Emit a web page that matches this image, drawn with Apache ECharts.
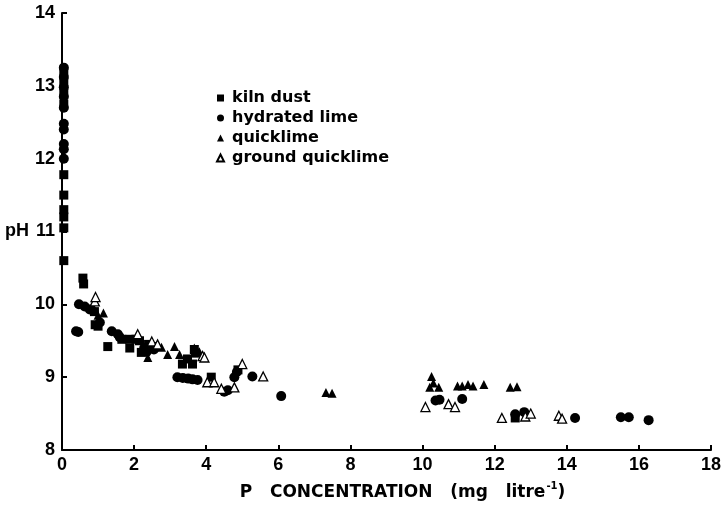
<!DOCTYPE html>
<html>
<head>
<meta charset="utf-8">
<script src="https://cdn.jsdelivr.net/npm/echarts@6/dist/echarts.min.js"></script>
<style>
  html, body { margin: 0; padding: 0; background: #fff; }
  #chart { width: 724px; height: 505px; }
</style>
</head>
<body>
<div id="chart"></div>
<script>
// pH of the treated water against residual P concentration, by lime material
const seriesNames = ['kiln dust', 'hydrated lime', 'quicklime', 'ground quicklime'];

const kilnDust = [
  [0.05, 13.2], [0.05, 13.05], [0.05, 12.9], [0.05, 12.75], [0.05, 11.78],
  [0.05, 11.5], [0.05, 11.3], [0.05, 11.2], [0.05, 11.05], [0.05, 10.6],
  [0.58, 10.36], [0.6, 10.28], [0.9, 9.9], [0.92, 9.72], [1.0, 9.7],
  [1.27, 9.42], [1.66, 9.52], [1.88, 9.52], [1.88, 9.4], [2.05, 9.52],
  [2.15, 9.5], [2.2, 9.34], [2.4, 9.45], [2.5, 9.42], [3.34, 9.18],
  [3.48, 9.25], [3.62, 9.18], [3.67, 9.38], [3.7, 9.33], [4.14, 9.0],
  [4.88, 9.1], [12.57, 8.44]
];

const hydratedLime = [
  [0.05, 13.25], [0.05, 13.12], [0.05, 12.98], [0.05, 12.85], [0.05, 12.7],
  [0.05, 12.48], [0.05, 12.4], [0.05, 12.2], [0.05, 12.13], [0.05, 12.0],
  [0.39, 9.63], [0.45, 9.62], [0.47, 10.0], [0.63, 9.97], [0.77, 9.93],
  [1.05, 9.75], [1.38, 9.63], [1.55, 9.59], [1.6, 9.55], [2.28, 9.4],
  [2.35, 9.35], [2.55, 9.38], [3.2, 9.0], [3.35, 8.99], [3.5, 8.98],
  [3.62, 8.97], [3.76, 8.96], [4.5, 8.8], [4.6, 8.82], [4.78, 9.0],
  [4.85, 9.07], [5.28, 9.01], [6.08, 8.74], [10.36, 8.68], [10.47, 8.69],
  [11.1, 8.7], [12.57, 8.49], [12.82, 8.52], [14.23, 8.44], [15.5, 8.45],
  [15.72, 8.45], [16.27, 8.41]
];

const quicklime = [
  [0.88, 9.95], [1.0, 9.85], [1.15, 9.88], [2.38, 9.27], [2.76, 9.41],
  [2.93, 9.31], [3.12, 9.42], [3.26, 9.31], [3.67, 9.4], [3.81, 9.35],
  [7.32, 8.79], [7.49, 8.78], [10.2, 8.86], [10.25, 9.01], [10.3, 8.92],
  [10.45, 8.86], [10.97, 8.88], [11.1, 8.88], [11.26, 8.9], [11.4, 8.88],
  [11.7, 8.9], [12.43, 8.86], [12.62, 8.87]
];

const groundQuicklime = [
  [0.91, 10.04], [0.93, 10.1], [2.1, 9.59], [2.49, 9.49], [2.65, 9.45],
  [3.9, 9.29], [3.95, 9.27], [4.03, 8.93], [4.22, 8.93], [4.42, 8.84],
  [4.78, 8.86], [5.0, 9.18], [5.58, 9.01], [10.08, 8.59], [10.72, 8.63],
  [10.9, 8.59], [12.2, 8.44], [12.85, 8.46], [13.0, 8.5], [13.78, 8.47],
  [13.87, 8.43]
];

const xTicks = { min: 0, max: 18, interval: 2 };
const yTicks = { min: 8, max: 14, interval: 1 };

const tickFont = {
  color: '#000',
  fontFamily: '"Liberation Sans", Arial, sans-serif',
  fontWeight: 'bold',
  fontSize: 18
};
const wideFont = '"DejaVu Sans", sans-serif';

const axisCommon = {
  axisLine: { show: true, onZero: false, lineStyle: { color: '#000', width: 2 } },
  axisTick: { show: true, inside: true, length: 5, lineStyle: { color: '#000', width: 2 } },
  splitLine: { show: false }
};

const chart = echarts.init(document.getElementById('chart'), null, { renderer: 'canvas' });

chart.setOption({
  animation: false,
  backgroundColor: '#fff',
  grid: { left: 62, right: 13, top: 13, bottom: 55, containLabel: false, outerBoundsMode: 'none' },
  legend: {
    orient: 'vertical',
    left: 211,
    top: 85,
    itemWidth: 7,
    itemHeight: 7,
    itemGap: 4,
    selectedMode: false,
    data: seriesNames,
    textStyle: { color: '#000', fontFamily: wideFont, fontWeight: 'bold', fontSize: 16, lineHeight: 16, padding: [0, 0, 0, 3] }
  },
  xAxis: Object.assign({
    type: 'value',
    min: xTicks.min, max: xTicks.max, interval: xTicks.interval,
    name: '{t|P   CONCENTRATION   (mg   litre}{s|-1}{t|)}',
    nameLocation: 'middle',
    nameGap: 31,
    nameTextStyle: {
      padding: [0, 0, 0, 32],
      rich: {
        t: { color: '#000', fontFamily: wideFont, fontWeight: 'bold', fontSize: 17, lineHeight: 20, verticalAlign: 'bottom' },
        s: { color: '#000', fontFamily: wideFont, fontWeight: 'bold', fontSize: 10, lineHeight: 20, verticalAlign: 'top', padding: [0, 0, 10, 1] }
      }
    },
    axisLabel: Object.assign({ margin: 6 }, tickFont)
  }, axisCommon),
  yAxis: Object.assign({
    type: 'value',
    min: yTicks.min, max: yTicks.max, interval: yTicks.interval,
    name: 'pH',
    nameLocation: 'middle',
    nameRotate: 0,
    nameGap: 32,
    nameTextStyle: { color: '#000', fontFamily: '"Liberation Sans", Arial, sans-serif', fontWeight: 'bold', fontSize: 18, align: 'right', verticalAlign: 'middle' },
    axisLabel: Object.assign({ margin: 7 }, tickFont)
  }, axisCommon),
  series: [
    {
      name: seriesNames[0], type: 'scatter', data: kilnDust,
      symbol: 'rect', symbolSize: 9,
      itemStyle: { color: '#000', opacity: 1 }
    },
    {
      name: seriesNames[1], type: 'scatter', data: hydratedLime,
      symbol: 'circle', symbolSize: 10,
      itemStyle: { color: '#000', opacity: 1 }
    },
    {
      name: seriesNames[2], type: 'scatter', data: quicklime,
      symbol: 'triangle', symbolSize: 9,
      itemStyle: { color: '#000', opacity: 1 }
    },
    {
      name: seriesNames[3], type: 'scatter', data: groundQuicklime,
      symbol: 'triangle', symbolSize: 9,
      itemStyle: { color: '#fff', borderColor: '#000', borderWidth: 1.3, opacity: 1 }
    }
  ]
});
</script>
</body>
</html>
